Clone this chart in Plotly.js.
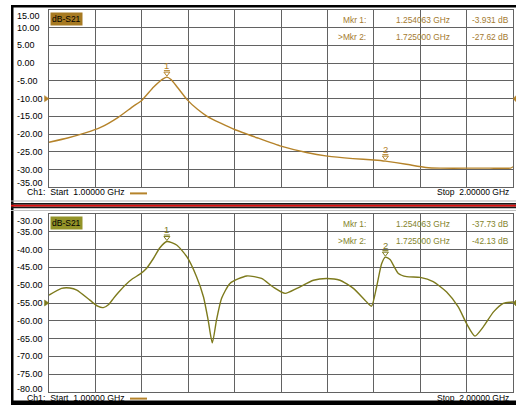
<!DOCTYPE html>
<html><head><meta charset="utf-8">
<script src="https://cdn.plot.ly/plotly-3.0.1.min.js"></script>
<style>html,body{margin:0;padding:0;background:#fff;overflow:hidden}#chart{width:516px;height:405px}</style>
</head><body><div id="chart"></div>
<script>
// ---------- data ----------
const freqTop = [1.000,1.040,1.080,1.110,1.150,1.180,1.200,1.225,1.245,1.254063,1.263,1.275,1.297,1.320,1.340,1.370,1.400,1.450,1.500,1.555,1.600,1.655,1.700,1.725,1.770,1.812,1.843,1.900,1.950,1.995,2.000];
const dbTop   = [-22.3,-21.1,-19.6,-18.2,-15.2,-12.3,-10.5,-6.8,-4.5,-3.931,-4.6,-6.5,-10.2,-13.0,-14.9,-16.9,-18.7,-21.1,-23.4,-25.2,-26.2,-26.9,-27.3,-27.62,-28.5,-29.4,-29.6,-29.6,-29.6,-29.6,-29.2];
const freqBot = [1.000,1.027,1.045,1.060,1.088,1.105,1.117,1.128,1.139,1.150,1.164,1.180,1.196,1.210,1.225,1.239,1.254063,1.275,1.297,1.318,1.333,1.343,1.352,1.361,1.372,1.390,1.426,1.458,1.483,1.509,1.534,1.570,1.598,1.627,1.656,1.681,1.695,1.706,1.717,1.725,1.735,1.753,1.771,1.800,1.828,1.857,1.882,1.900,1.918,1.936,1.958,1.979,2.000];
const dbBot   = [-52.8,-50.9,-50.8,-51.4,-54.2,-55.9,-56.3,-55.5,-53.7,-52.0,-50.0,-48.2,-46.9,-45.3,-42.5,-39.5,-37.73,-38.7,-42.0,-47.6,-53.3,-59.8,-66.2,-59.8,-53.7,-49.5,-47.4,-48.1,-50.5,-52.3,-50.9,-48.6,-48.1,-48.6,-50.9,-54.2,-55.9,-50.5,-43.9,-42.13,-42.8,-46.7,-47.6,-47.8,-49.0,-51.9,-56.1,-60.8,-64.3,-61.7,-57.5,-55.1,-54.7];
const markerFreq  = [1.254063, 1.725];
const markerTop   = [-3.931, -27.62];
const markerBot   = [-37.73, -42.13];
const markerNames = ['1','2'];
const markerRows  = ['Mkr 1:', '>Mkr 2:'];
const markerFreqText = ['1.254063 GHz', '1.725000 GHz'];
const markerTopText  = ['-3.931 dB', '-27.62 dB'];
const markerBotText  = ['-37.73 dB', '-42.13 dB'];
const xTicks   = [1.0,1.1,1.2,1.3,1.4,1.5,1.6,1.7,1.8,1.9,2.0];
const yTicksTop = [15,10,5,0,-5,-10,-15,-20,-25,-30,-35];
const yTicksBot = [-30,-35,-40,-45,-50,-55,-60,-65,-70,-75,-80];
const refTop = -10, refBot = -55;
const traceName = 'dB-S21';
const startText = 'Ch1:\u00a0 Start\u00a0 1.00000 GHz';
const stopText  = 'Stop\u00a0 2.00000 GHz';

// ---------- style ----------
const W = 516, H = 405, ML = 49, MR = 3, MT = 10, MB = 13;
const PW = W - ML - MR, PH = H - MT - MB;
const px = x => (x - ML) / PW;
const py = y => 1 - (y - MT) / PH;
const GRID = '#626262';
const TOPC = '#b5832a', BOTC = '#7d7a1c';
const TOPTXT = '#a47a30', BOTTXT = '#84842c';
const FONT = 'Liberation Sans, Arial, sans-serif';

const traces = [
  {x: freqTop, y: dbTop, xaxis:'x', yaxis:'y', mode:'lines', line:{color:TOPC, width:1.4, shape:'spline', smoothing:0.4}, hoverinfo:'skip'},
  {x: freqBot, y: dbBot, xaxis:'x2', yaxis:'y2', mode:'lines', line:{color:BOTC, width:1.4, shape:'spline', smoothing:0.6}, hoverinfo:'skip'}
];

const ann = [];
const shapes = [];
function yLabels(ticks, yref, firstShift, lastShift) {
  ticks.forEach((v, i) => {
    let ys = 0;
    if (i === 0) ys = firstShift;
    if (i === ticks.length - 1) ys = lastShift;
    ann.push({xref:'paper', yref:yref, x:px(14.5), y:v, xanchor:'left', yanchor:'middle', yshift:ys,
      text:v.toFixed(2), showarrow:false, font:{family:FONT, size:9, color:'#000'}});
  });
}
yLabels(yTicksTop, 'y', -5.5, 4);
yLabels(yTicksBot, 'y2', -6.5, 3.5);

function panelDeco(yref, xref, color, txtColor, boxColor, markerVals, markerValText, topPx, footPx) {
  ann.push({xref:'paper', yref:'paper', x:0, y:py(topPx + 2), xanchor:'left', yanchor:'top', xshift:1,
    text:traceName, showarrow:false, bgcolor:boxColor, borderpad:1, font:{family:FONT, size:8.5, color:'#000'}});
  ann.push({xref:'paper', yref:'paper', x:px(25), y:py(footPx), xanchor:'left', yanchor:'middle',
    text:startText, showarrow:false, font:{family:FONT, size:8.7, color:'#000'}});
  ann.push({xref:'paper', yref:'paper', x:px(511), y:py(footPx), xanchor:'right', yanchor:'middle',
    text:stopText, showarrow:false, font:{family:FONT, size:8.5, color:'#000'}});
  shapes.push({type:'line', xref:'paper', yref:'paper', x0:px(130), x1:px(147), y0:py(footPx + 1), y1:py(footPx + 1), line:{color:TOPC, width:2}});
  markerRows.forEach((r, i) => {
    const yy = py(topPx + 10 + i * 17.4);
    ann.push({xref:'paper', yref:'paper', x:px(367.5), y:yy, xanchor:'right', yanchor:'middle', text:r, showarrow:false, font:{family:FONT, size:8.4, color:txtColor}});
    ann.push({xref:'paper', yref:'paper', x:px(451.5), y:yy, xanchor:'right', yanchor:'middle', text:markerFreqText[i], showarrow:false, font:{family:FONT, size:8.4, color:txtColor}});
    ann.push({xref:'paper', yref:'paper', x:px(510.5), y:yy, xanchor:'right', yanchor:'middle', text:markerValText[i], showarrow:false, font:{family:FONT, size:8.4, color:txtColor}});
  });
  markerFreq.forEach((f, i) => {
    shapes.push({type:'path', xref:xref, yref:yref, xsizemode:'pixel', ysizemode:'pixel', xanchor:f, yanchor:markerVals[i],
      path:'M-3,5 L3,5 L0,1 Z M-3,6.5 L3,6.5', line:{color:color, width:1}, fillcolor:'rgba(0,0,0,0)'});
    ann.push({xref:xref, yref:yref, x:f, y:markerVals[i], yshift:12, xanchor:'center', yanchor:'middle', text:markerNames[i], showarrow:false, font:{family:FONT, size:9.5, color:color}});
  });
}
panelDeco('y', 'x', TOPC, TOPTXT, '#a77a22', markerTop, markerTopText, 10, 192.4);
panelDeco('y2', 'x2', BOTC, BOTTXT, '#939328', markerBot, markerBotText, 214, 397.6);

// reference-level arrows
[[refTop,'y',TOPC],[refBot,'y2',BOTC]].forEach(([v, yr, c]) => {
  shapes.push({type:'path', xref:'paper', yref:yr, xsizemode:'pixel', ysizemode:'pixel', xanchor:0, yanchor:v,
    path:'M-4.5,3 L0,0 L-4.5,-3 Z', line:{color:c, width:0.5}, fillcolor:c});
  shapes.push({type:'path', xref:'paper', yref:yr, xsizemode:'pixel', ysizemode:'pixel', xanchor:1, yanchor:v,
    path:'M3,3 L0,0 L3,-3 Z', line:{color:c, width:0.5}, fillcolor:c});
});

// frame & separator
const rect = (x0, y0, x1, y1, c) => shapes.push({type:'rect', xref:'paper', yref:'paper', x0:px(x0), x1:px(x1), y0:py(y0), y1:py(y1), line:{width:0}, fillcolor:c, layer:'above'});
rect(11, 5, 13.5, 405, '#000');
rect(11, 5, 516, 7.5, '#000');
rect(11, 200.5, 516, 201.5, '#b4b4b4');
rect(11, 203, 516, 204.8, '#1a1a1a');
rect(11, 204.8, 516, 206.8, '#e01010');
rect(11, 206.8, 516, 208.3, '#1a1a1a');
rect(11, 210, 516, 211, '#c0c0c0');
rect(11, 400.5, 516, 405, '#000');

const axX = (anchor) => ({domain:[0,1], range:[1,2], anchor:anchor, tickvals:xTicks, showticklabels:false, ticks:'',
  showgrid:true, gridcolor:GRID, gridwidth:1, zeroline:false, showline:true, mirror:true, linecolor:GRID, linewidth:1, fixedrange:true});
const axY = (dom, rng, tv, anchor) => ({domain:dom, range:rng, anchor:anchor, tickvals:tv, showticklabels:false, ticks:'',
  showgrid:true, gridcolor:GRID, gridwidth:1, zeroline:false, showline:true, mirror:true, linecolor:GRID, linewidth:1, fixedrange:true});

const layout = {
  width:W, height:H, margin:{l:ML, r:MR, t:MT, b:MB, pad:0},
  paper_bgcolor:'#fff', plot_bgcolor:'#fff', showlegend:false,
  xaxis: axX('y'),
  yaxis: axY([py(187.3), 1], [-35, 15], yTicksTop, 'x'),
  xaxis2: axX('y2'),
  yaxis2: axY([0, py(214)], [-80, -30], yTicksBot, 'x2'),
  annotations: ann, shapes: shapes
};
Plotly.newPlot('chart', traces, layout, {displayModeBar:false, staticPlot:true});
</script></body></html>
